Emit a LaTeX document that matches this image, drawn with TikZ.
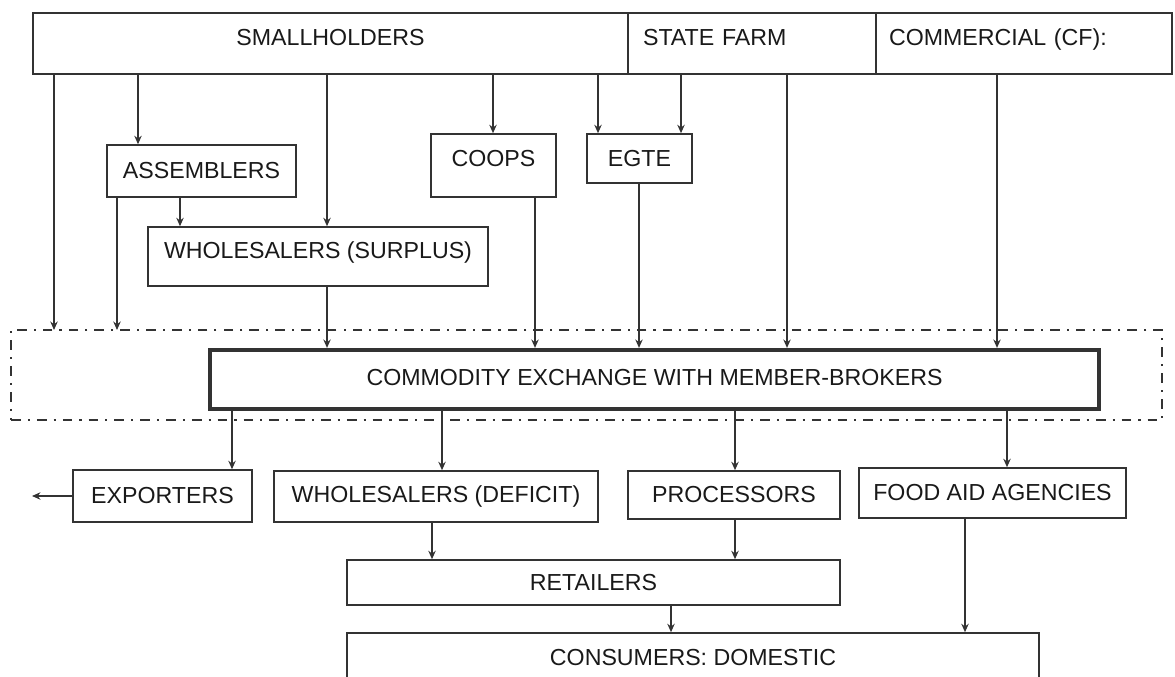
\documentclass[tikz,border=0pt]{standalone}
\usepackage{fontspec}
\setmainfont{Liberation Sans}
\usetikzlibrary{shapes,arrows,arrows.meta,positioning}

\begin{document}
\begin{tikzpicture}[x=0.02cm, y=-0.02cm,
    font=\fontsize{13.2}{15}\selectfont,
    box/.style={rectangle, draw=black!80, line width=0.9pt, text=black!90, inner sep=0pt},
    headbox/.style={box, minimum height=1.22cm, text depth=0.26cm},
    market/.style={rectangle, draw=black!80, line width=1.2pt, dash pattern=on 5.5pt off 4pt on 1.2pt off 4pt},
    arrow/.style={-{Stealth[length=4.8pt,width=4.2pt]}, draw=black!80, line width=0.8pt}]

    \useasboundingbox (0,0) rectangle (1175,676);
    \clip (0,0) rectangle (1175,676);

    % producers
    \node [headbox, minimum width=11.9cm] (small) at (330.5,43.5) {SMALLHOLDERS};
    \node [headbox, text width=4.36cm, inner xsep=0.3cm, align=left] (state) at (752,43.5) {STATE FARM};
    \node [headbox, text width=5.4cm, inner xsep=0.26cm, align=left] (comm) at (1024,43.5) {COMMERCIAL (CF):};

    \node [box, minimum width=3.78cm, minimum height=1.04cm] (assemb) at (201.5,171) {ASSEMBLERS};
    \node [box, minimum width=2.5cm, minimum height=1.26cm, text depth=0.3cm] (coops) at (493.5,165.5) {COOPS};
    \node [box, minimum width=2.1cm, minimum height=0.98cm] (egte) at (639.5,158.5) {EGTE};
    \node [box, minimum width=6.8cm, minimum height=1.18cm, text depth=0.26cm] (wss) at (318,256.5) {WHOLESALERS (SURPLUS)};

    % exchange
    \node [market, minimum width=23.02cm, minimum height=1.8cm] (mkt) at (586.5,375) {};
    \node [box, line width=2.4pt, minimum width=17.78cm, minimum height=1.18cm, text depth=0.1cm] (ce) at (654.5,379.5) {COMMODITY EXCHANGE WITH MEMBER-BROKERS};

    % buyers
    \node [box, minimum width=3.58cm, minimum height=1.04cm] (exp) at (162.5,496) {EXPORTERS};
    \node [box, minimum width=6.48cm, minimum height=1.02cm] (wsd) at (436,496.5) {WHOLESALERS (DEFICIT)};
    \node [box, minimum width=4.24cm, minimum height=0.96cm] (proc) at (734,495) {PROCESSORS};
    \node [box, minimum width=5.34cm, minimum height=1.0cm] (food) at (992.5,493) {FOOD AID AGENCIES};
    \node [box, minimum width=9.86cm, minimum height=0.9cm] (ret) at (593.5,582.5) {RETAILERS};
    \node [box, minimum width=13.84cm, minimum height=1.0cm] (cons) at (693,658) {CONSUMERS: DOMESTIC};

    \coordinate (in1) at (54,330);
    \coordinate (in2) at (117,330);
    \coordinate (abroad) at (32,496);

    % into the exchange
    \draw [arrow] (small.south -| in1) -- (in1);
    \draw [arrow] (small.south -| 138,0) -- (assemb.north -| 138,0);
    \draw [arrow] (small.south -| 327,0) -- (wss.north -| 327,0);
    \draw [arrow] (small.south -| 493,0) -- (coops.north -| 493,0);
    \draw [arrow] (small.south -| 598,0) -- (egte.north -| 598,0);
    \draw [arrow] (state.south -| 681,0) -- (egte.north -| 681,0);
    \draw [arrow] (state.south -| 787,0) -- (ce.north -| 787,0);
    \draw [arrow] (comm.south -| 997,0) -- (ce.north -| 997,0);
    \draw [arrow] (assemb.south -| in2) -- (in2);
    \draw [arrow] (assemb.south -| 180,0) -- (wss.north -| 180,0);
    \draw [arrow] (wss.south -| 327,0) -- (ce.north -| 327,0);
    \draw [arrow] (coops.south -| 535,0) -- (ce.north -| 535,0);
    \draw [arrow] (egte.south -| 639,0) -- (ce.north -| 639,0);

    % out of the exchange
    \draw [arrow] (ce.south -| 232,0) -- (exp.north -| 232,0);
    \draw [arrow] (ce.south -| 442,0) -- (wsd.north -| 442,0);
    \draw [arrow] (ce.south -| 735,0) -- (proc.north -| 735,0);
    \draw [arrow] (ce.south -| 1007,0) -- (food.north -| 1007,0);
    \draw [arrow] (exp.west) -- (abroad);
    \draw [arrow] (wsd.south -| 432,0) -- (ret.north -| 432,0);
    \draw [arrow] (proc.south -| 735,0) -- (ret.north -| 735,0);
    \draw [arrow] (ret.south -| 671,0) -- (cons.north -| 671,0);
    \draw [arrow] (food.south -| 965,0) -- (cons.north -| 965,0);
\end{tikzpicture}
\end{document}
